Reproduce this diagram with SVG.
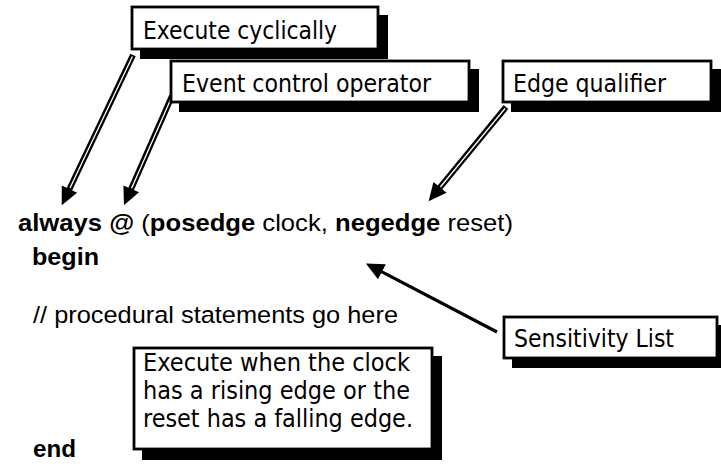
<svg xmlns="http://www.w3.org/2000/svg" width="721" height="471" viewBox="0 0 721 471">
<style>
  .box { fill: #fff; stroke: #000; stroke-width: 2.8; }
  .shadow { fill: #000; }
  .lbl { font-family: 'DejaVu Sans Condensed', 'DejaVu Sans', sans-serif; font-size: 25px; fill: #000; }
  .lbl5 { font-family: 'DejaVu Sans Condensed', 'DejaVu Sans', sans-serif; font-size: 24px; fill: #000; }
  .code { font-family: 'Liberation Sans', Arial, sans-serif; font-size: 24.5px; fill: #000; }
  .b { font-weight: bold; }
  .dbl { fill: none; stroke: #000; stroke-width: 6; marker-end: url(#head); }
  .inner { fill: none; stroke: #fff; stroke-width: 1.3; }
  .sgl { fill: none; stroke: #000; stroke-width: 3.2; marker-end: url(#head); }
</style>
<defs>
  <marker id="head" markerUnits="userSpaceOnUse" markerWidth="20" markerHeight="18" refX="1" refY="8.5" orient="auto" overflow="visible">
    <path d="M0,0 L18,8.5 L0,17 z" fill="#000"/>
  </marker>
</defs>
<rect width="721" height="471" fill="#fff"/>

<g id="code">
  <text class="code" x="18" y="231" textLength="495" lengthAdjust="spacingAndGlyphs"><tspan class="b">always</tspan> <tspan class="b">@</tspan> (<tspan class="b">posedge</tspan> clock, <tspan class="b">negedge</tspan> reset)</text>
  <text class="code b" x="32" y="265" textLength="67" lengthAdjust="spacingAndGlyphs">begin</text>
  <text class="code" x="33" y="323" textLength="365" lengthAdjust="spacingAndGlyphs">// procedural statements go here</text>
  <text class="code b" x="33" y="457" textLength="43" lengthAdjust="spacingAndGlyphs">end</text>
</g>

<g id="connectors">
  <path class="dbl" d="M133,55 L69,190"/>
  <path class="inner" d="M132.4,56.5 L70,188"/>
  <path class="dbl" d="M172,96 L130.8,189.8"/>
  <path class="inner" d="M171.5,97.5 L131.6,188.2"/>
  <path class="dbl" d="M506,107 L439.4,188.1"/>
  <path class="inner" d="M505,108.5 L440.4,187"/>
  <path class="sgl" d="M497,332 L381,271.3"/>
</g>

<g id="execute-cyclically">
  <rect class="shadow" x="140" y="15" width="248" height="44"/>
  <rect class="box" x="132" y="7" width="246" height="42"/>
  <text class="lbl" x="143" y="39" textLength="194" lengthAdjust="spacingAndGlyphs">Execute cyclically</text>
</g>

<g id="event-control-operator">
  <rect class="shadow" x="179" y="69" width="300" height="43"/>
  <rect class="box" x="171" y="61" width="298" height="41"/>
  <text class="lbl" x="182" y="92" textLength="249" lengthAdjust="spacingAndGlyphs">Event control operator</text>
</g>

<g id="edge-qualifier">
  <rect class="shadow" x="511" y="69" width="210" height="43"/>
  <rect class="box" x="503" y="61" width="208" height="41"/>
  <text class="lbl" x="513" y="92" textLength="153" lengthAdjust="spacingAndGlyphs">Edge qualifier</text>
</g>

<g id="sensitivity-list">
  <rect class="shadow" x="512" y="325" width="215" height="43"/>
  <rect class="box" x="504" y="317" width="213" height="41"/>
  <text class="lbl" x="514" y="347" textLength="160" lengthAdjust="spacingAndGlyphs">Sensitivity List</text>
</g>

<g id="execute-when">
  <rect class="shadow" x="142" y="356" width="300" height="104"/>
  <rect class="box" x="134" y="348" width="298" height="101"/>
  <text class="lbl5" x="143" y="371" textLength="267" lengthAdjust="spacingAndGlyphs">Execute when the clock</text>
  <text class="lbl5" x="143" y="399" textLength="267" lengthAdjust="spacingAndGlyphs">has a rising edge or the</text>
  <text class="lbl5" x="143" y="427" textLength="270" lengthAdjust="spacingAndGlyphs">reset has a falling edge.</text>
</g>
</svg>
